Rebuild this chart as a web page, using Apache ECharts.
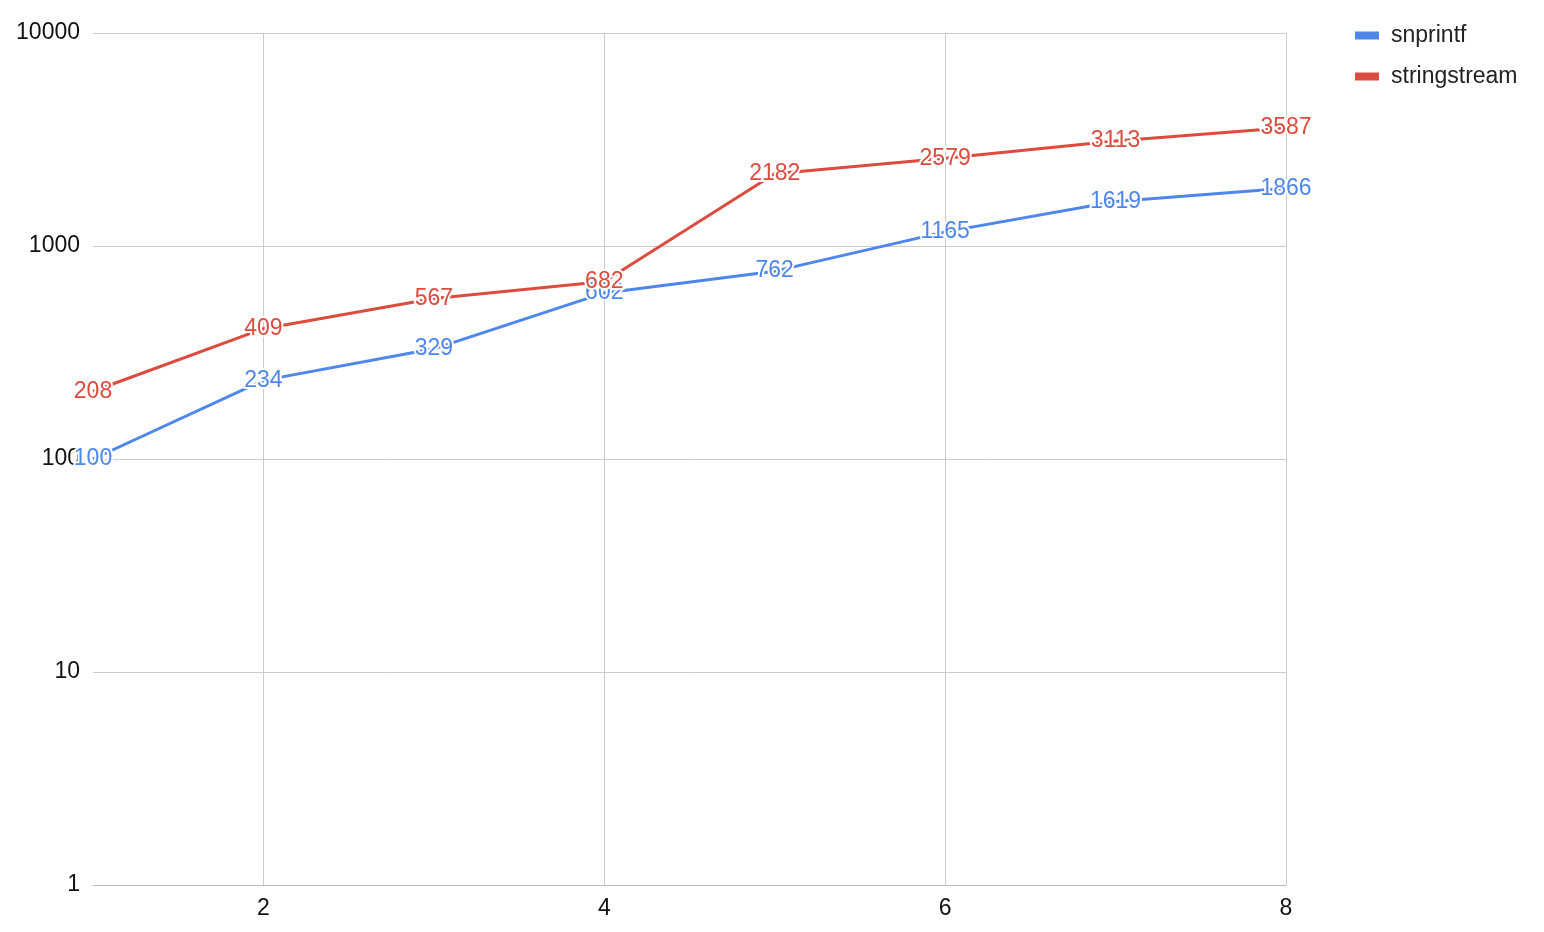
<!DOCTYPE html>
<html><head><meta charset="utf-8">
<script src="https://cdn.jsdelivr.net/npm/echarts@6/dist/echarts.min.js"></script>
<style>html,body{margin:0;padding:0;background:#fff}#c{width:1544px;height:932px}</style>
</head><body><div id="c"></div>
<script>
const xValues = [1, 2, 3, 4, 5, 6, 7, 8];
const snprintf = [100, 234, 329, 602, 762, 1165, 1619, 1866];
const stringstream = [208, 409, 567, 682, 2182, 2579, 3113, 3587];
const xTicks = [2, 4, 6, 8];
const seriesNames = ['snprintf', 'stringstream'];
const colors = ['#4f86ec', '#db4c3f'];
const FONT = '"Liberation Sans", Arial, Helvetica, sans-serif';

const chart = echarts.init(document.getElementById('c'), null, {renderer: 'canvas'});
const pairs = (ys) => xValues.map((x, i) => [x, ys[i]]);
const mkSeries = (name, ys, color) => ({
  name, type: 'line', data: pairs(ys), showSymbol: true, symbol: 'circle', symbolSize: 1,
  lineStyle: {width: 3, color}, itemStyle: {color: 'rgba(0,0,0,0)', borderWidth: 0},
  label: {show: true, position: 'inside', color, fontSize: 23, fontFamily: FONT,
    textBorderColor: '#fff', textBorderWidth: 4, formatter: (p) => String(p.value[1])},
  labelLayout: {hideOverlap: false},
  emphasis: {disabled: true}, animation: false
});
chart.setOption({
  animation: false,
  color: colors,
  grid: {left: 93, right: 258, top: 33, bottom: 47, containLabel: false},
  legend: {
    orient: 'vertical', left: 1350, top: 19, itemWidth: 24, itemHeight: 8, itemGap: 18,
    icon: 'rect', textStyle: {fontSize: 23, color: '#222', fontFamily: FONT, padding: [0, 0, 0, 7]},
    data: seriesNames.map((n, i) => ({name: n, itemStyle: {color: colors[i], opacity: 1}}))
  },
  xAxis: {
    type: 'value', min: 1, max: 8,
    axisLine: {show: true, lineStyle: {color: '#bbb', width: 1}},
    axisTick: {show: false, customValues: xTicks},
    axisLabel: {customValues: xTicks, fontSize: 23, color: '#111', margin: 12, fontFamily: FONT},
    splitLine: {show: true, lineStyle: {color: '#ccc', width: 1}}
  },
  yAxis: {
    type: 'log', logBase: 10, min: 1, max: 10000,
    axisLine: {show: false}, axisTick: {show: false},
    axisLabel: {fontSize: 23, color: '#111', margin: 13, fontFamily: FONT, formatter: (v) => String(Math.round(v))},
    splitLine: {show: true, lineStyle: {color: '#ccc', width: 1}}
  },
  series: [mkSeries(seriesNames[0], snprintf, colors[0]), mkSeries(seriesNames[1], stringstream, colors[1])]
});
</script></body></html>
